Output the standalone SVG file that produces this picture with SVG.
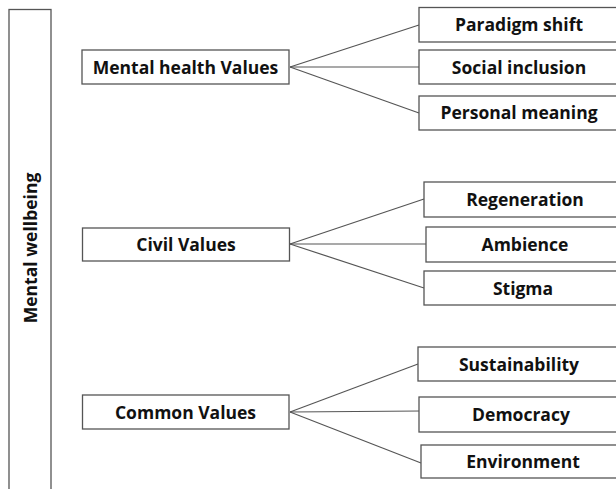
<svg xmlns="http://www.w3.org/2000/svg" width="616" height="489" viewBox="0 0 616 489">
<style>
.box{fill:#fff;stroke:#555;stroke-width:1.3}
.t{font-family:"Open Sans",Lato,sans-serif;font-weight:bold;font-size:17.5px;fill:#111;text-anchor:middle}
.c{stroke:#555;stroke-width:1.2;fill:none}
</style>
<rect width="616" height="489" fill="#fff"/>
<g id="mental-wellbeing">
<rect class="box" x="9" y="9.5" width="42" height="485"/>
<text class="t" transform="translate(36.5,248) rotate(-90)">Mental wellbeing</text>
</g>
<g id="connectors">
<line class="c" x1="290" y1="67" x2="419" y2="25"/>
<line class="c" x1="290" y1="67" x2="419" y2="67"/>
<line class="c" x1="290" y1="67" x2="419" y2="113"/>
<line class="c" x1="290" y1="244" x2="424" y2="199"/>
<line class="c" x1="290" y1="244" x2="426" y2="244"/>
<line class="c" x1="290" y1="244" x2="424" y2="288"/>
<line class="c" x1="290" y1="412" x2="418" y2="364"/>
<line class="c" x1="290" y1="412" x2="421" y2="411"/>
<line class="c" x1="290" y1="412" x2="421" y2="463"/>
</g>
<g id="mental-health-values">
<rect class="box" x="82" y="50" width="207" height="34"/>
<text class="t" x="185.5" y="73.5">Mental health Values</text>
</g>
<g id="civil-values">
<rect class="box" x="82.5" y="228" width="207" height="33"/>
<text class="t" x="186" y="250.5">Civil Values</text>
</g>
<g id="common-values">
<rect class="box" x="82.5" y="395" width="206.5" height="34"/>
<text class="t" x="185.5" y="418.5">Common Values</text>
</g>
<g id="paradigm-shift">
<rect class="box" x="419" y="7.5" width="205" height="34.5"/>
<text class="t" x="519" y="31">Paradigm shift</text>
</g>
<g id="social-inclusion">
<rect class="box" x="419" y="50" width="205" height="34"/>
<text class="t" x="519" y="73.5">Social inclusion</text>
</g>
<g id="personal-meaning">
<rect class="box" x="419" y="96" width="205" height="34"/>
<text class="t" x="519" y="119">Personal meaning</text>
</g>
<g id="regeneration">
<rect class="box" x="424" y="182" width="205" height="35"/>
<text class="t" x="525" y="205.5">Regeneration</text>
</g>
<g id="ambience">
<rect class="box" x="426" y="227" width="205" height="35"/>
<text class="t" x="525" y="250.5">Ambience</text>
</g>
<g id="stigma">
<rect class="box" x="424" y="271" width="205" height="34"/>
<text class="t" x="523" y="294.5">Stigma</text>
</g>
<g id="sustainability">
<rect class="box" x="418" y="347" width="205" height="34"/>
<text class="t" x="519" y="370.5">Sustainability</text>
</g>
<g id="democracy">
<rect class="box" x="419" y="397" width="205" height="35"/>
<text class="t" x="521" y="420.5">Democracy</text>
</g>
<g id="environment">
<rect class="box" x="421" y="445" width="205" height="33"/>
<text class="t" x="523" y="468">Environment</text>
</g>
</svg>
